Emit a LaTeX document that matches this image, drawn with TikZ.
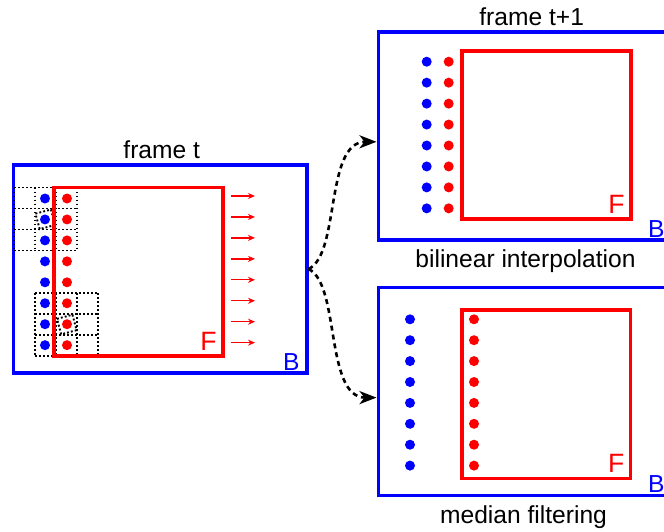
\documentclass[tikz,border=0pt]{standalone}
\usepackage{fontspec}
\setmainfont{Liberation Sans}
\usetikzlibrary{arrows.meta,calc}
\definecolor{pblue}{RGB}{0,0,255}
\definecolor{pred}{RGB}{255,0,0}
\begin{document}
\begin{tikzpicture}[x=1pt,y=-1pt,
  bbox/.style={draw=pblue,line width=3.6pt,minimum width=293.4pt,minimum height=208pt,inner sep=0pt},
  fbox/.style={draw=pred,line width=3.6pt,minimum width=168.5pt,minimum height=168.5pt,inner sep=0pt},
  lbl/.style={font=\fontsize{24.6}{29}\selectfont,inner sep=0pt,anchor=base},
  flbl/.style={text=pred,font=\fontsize{26.5}{30}\selectfont,inner sep=0pt,anchor=base east},
  blbl/.style={text=pblue,font=\fontsize{24.6}{29}\selectfont,inner sep=0pt,anchor=base east},
  bdot/.style={fill=pblue},
  rdot/.style={fill=pred},
  gridline/.style={line width=1.9pt,dash pattern=on 1.9pt off 2.1pt},
  move/.style={draw=pred,line width=1.3pt,-{Stealth[length=7pt,width=6pt]}},
  flow/.style={line width=2.6pt,dash pattern=on 5pt off 4pt,-{Stealth[length=17pt,width=13pt,inset=5pt]}}
]
\useasboundingbox (0,0) rectangle (664,531);
\clip (0,0) rectangle (664,531);

% ---- frame t ----
\node[bbox] (Bt) at (160,269) {};
% dotted grids
\foreach \i in {0,...,3} {
  \draw[gridline] (14+21*\i,187.5) -- (14+21*\i,250.5);
  \draw[gridline] (14,187.5+21*\i) -- (77,187.5+21*\i);
  \draw[gridline] (35+21*\i,293.3) -- (35+21*\i,356.3);
  \draw[gridline] (35,293.3+21*\i) -- (98,293.3+21*\i);
}
% tilted cells
\draw[gridline, rotate around={15:(45.3,219.3)}] (37.3,211.3) -- (53.3,211.3) -- (53.3,227.3) -- (37.3,227.3) -- cycle;
\draw[gridline, rotate around={15:(66.8,324.5)}] (58.8,316.5) -- (74.8,316.5) -- (74.8,332.5) -- (58.8,332.5) -- cycle;
\node[fbox] (Ft) at (138.5,271.85) {};
\foreach \k in {0,...,7} {
  \fill[bdot] (45,198.5+20.95*\k) circle (5pt);
  \fill[rdot] (67,198.5+20.95*\k) circle (5pt);
  \draw[move] (231,196+20.95*\k) -- (255,196+20.95*\k);
}
\node[flbl] (Flt) at ($(Ft.south east)+(-7.8,-7.6)$) {F};
\node[blbl] (Blt) at ($(Bt.south east)+(-8.8,-4.6)$) {B};
\node[lbl] (tt) at (161.7,158.3) {frame t};

% ---- frame t+1 ----
\node[bbox] (Bu) at (525,135.8) {};
\node[fbox] (Fu) at (546.5,135) {};
\foreach \k in {0,...,7} {
  \fill[bdot] (426.7,61.7+20.95*\k) circle (5pt);
  \fill[rdot] (448.7,61.7+20.95*\k) circle (5pt);
}
\node[flbl] (Flu) at ($(Fu.south east)+(-7.8,-7.6)$) {F};
\node[blbl] (Blu) at ($(Bu.south east)+(-8.8,-4.6)$) {B};
\node[lbl] (tu) at (531.7,25) {frame t+1};
\node[lbl] (cu) at (525.5,267.3) {bilinear interpolation};

% ---- median ----
\node[bbox] (Bm) at (525,391.6) {};
\node[fbox] (Fm) at (546.2,394.15) {};
\foreach \k in {0,...,7} {
  \fill[bdot] (410,319.3+20.9*\k) circle (5pt);
  \fill[rdot] (474,319.3+20.9*\k) circle (5pt);
}
\node[flbl] (Flm) at ($(Fm.south east)+(-7.8,-7.6)$) {F};
\node[blbl] (Blm) at ($(Bm.south east)+(-8.8,-4.6)$) {B};
\node[lbl] (cm) at (523.5,523.3) {median filtering};

% ---- connectors ----
\draw[flow] (Bt.east) .. controls +(32,-15) and +(-52,0) .. ([yshift=-6pt]Bu.west);
\draw[flow] (Bt.east) .. controls +(32,15) and +(-52,0) .. ([yshift=-6pt]Bm.west);
\end{tikzpicture}
\end{document}
